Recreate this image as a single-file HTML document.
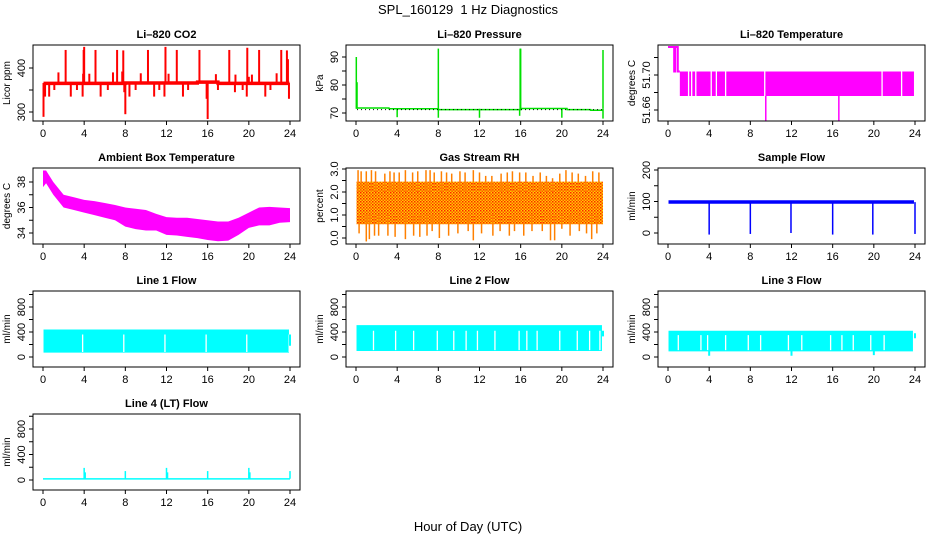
<!DOCTYPE html>
<html><head><meta charset="utf-8">
<style>
html,body{margin:0;padding:0;background:#fff;}
svg{display:block;font-family:"Liberation Sans",sans-serif;}
</style></head>
<body>
<svg id="chart" width="936" height="540" viewBox="0 0 936 540" xmlns="http://www.w3.org/2000/svg">
<defs>
<pattern id="rhpat" width="3" height="3" patternUnits="userSpaceOnUse">
<rect width="3" height="3" fill="#ffd000"/>
<rect x="0" y="0" width="1.5" height="1.5" fill="#ff2000"/>
<rect x="1.5" y="1.5" width="1.5" height="1.5" fill="#ff5000"/>
</pattern>
</defs>
<text x="468" y="14" font-size="13" text-anchor="middle">SPL_160129&#160; 1 Hz Diagnostics</text>
<text x="468" y="531" font-size="13" text-anchor="middle">Hour of Day (UTC)</text>
</svg>
<script>
// ---- data ----
const xTicks=[0,4,8,12,16,20,24];
// CO2
const co2BaseTimes=[0.05,8,8.01,15,15.01,17,17.01,23.95];
const co2BaseVals=[365,365,366,366,368,368,365,365];
const co2SpikeTimes=[2.2,3.95,4.0,5.1,7.2,7.8,10.2,11.9,13.0,15.2,18.1,19.85,21.0,23.15,23.7,1.5,3.9,4.5,6.8,7.7,9.5,12.2,16.8,18.7,20.0,20.3,22.7,23.8,0.05,0.2,0.6,1.1,2.7,3.3,3.85,5.6,6.3,7.9,8.0,8.4,9.0,10.8,11.3,11.8,13.6,14.1,15.9,16.0,17.0,18.65,19.4,19.8,21.6,22.1,23.9];
const co2SpikeVals=[441,441,448,441,441,440,441,448,441,441,441,446,441,441,440,390,387,387,390,392,388,387,386,385,380,385,388,420,289,335,335,350,335,350,335,335,350,345,295,335,350,335,350,335,335,350,330,284,350,345,350,335,335,350,330];
// Pressure
const presBaseTimes=[0.1,3.2,3.21,8,8.01,16,16.01,20.5,20.51,22.8,22.81,24];
const presBaseVals=[71.8,71.8,71.5,71.5,71.2,71.2,71.6,71.6,71.2,71.2,71.0,71.0];
const presSpikeTimes=[0.03,0.1,8.0,16.0,15.95,24.0,4.0,8.0,12.0,15.9,20.0,24.0];
const presSpikeVals=[90,81,93,93,93,92.5,68.5,68.3,68.3,69,68.3,68];
const presDotTimes=[0.1,24];
const presDotVals=[71.2,71.2];
// Li-820 temperature
const tempHighTimes=[0,0.6,0.6,0.7,0.7,0.95,0.95,1.15];
const tempHighVals=[51.732,51.732,51.704,51.704,51.732,51.732,51.704,51.704];
const tempBandTimes=[1.15,23.9];
const tempBandLo=[51.676,51.676];
const tempBandHi=[51.704,51.704];
const tempGapTimes=[2.0,2.3,2.7,4.2,4.7,5.6,9.4,20.8,22.7];
const tempSpikeTimes=[9.5,16.6];
const tempSpikeVals=[51.648,51.648];
// Ambient box temperature
const ambTimes=[0,0.3,1,2,3,4,5,6,7,8,9,10,11,12,13,14,15,16,17,18,19,20,21,22,23,24];
const ambLo=[37.6,37.9,37.0,36.0,35.8,35.6,35.4,35.2,35.0,34.5,34.3,34.2,34.2,33.85,33.8,33.7,33.6,33.45,33.35,33.4,33.85,34.4,34.6,34.6,34.8,34.85];
const ambHi=[38.9,38.9,38.0,37.0,36.8,36.6,36.5,36.35,36.2,36.0,35.9,35.8,35.5,35.25,35.2,35.2,35.1,35.0,34.9,34.9,35.2,35.6,36.0,36.05,36.0,35.95];
// Gas stream RH
const rhTimes=[0.05,24];
const rhLo=[0.6,0.6];
const rhHi=[2.45,2.45];
const rhUpTimes=[0.2,0.5,1.0,1.5,1.9,2.8,3.3,3.7,4.2,4.8,5.5,6.0,6.8,7.2,7.6,8.3,8.8,9.3,10.1,10.6,11.4,12.0,12.6,13.2,14.1,14.7,15.2,15.9,16.5,17.2,17.9,18.5,19.1,19.8,20.4,21.0,21.6,22.3,23.0,23.6];
const rhUpVals=[2.95,2.9,2.9,2.95,2.9,2.8,2.9,2.85,2.85,2.95,2.85,2.9,2.95,2.95,2.85,2.9,2.85,2.8,2.9,2.85,2.95,2.85,2.7,2.7,2.8,2.85,2.9,2.85,2.85,2.7,2.85,2.7,2.6,2.8,2.95,2.85,2.8,2.7,2.9,2.85];
const rhDnTimes=[0.3,1.0,1.3,1.8,2.2,3.1,3.8,4.8,5.6,6.2,6.9,7.4,8.1,9.0,9.9,10.9,11.4,12.2,13.3,14.0,14.9,15.4,16.3,17.1,18.1,18.9,19.3,20.0,20.8,21.7,22.4,22.9,23.4];
const rhDnVals=[0.2,-0.15,-0.05,0.1,0.1,0.1,0.05,-0.05,0.1,0.05,0.1,0.3,0.0,0.1,0.2,0.3,-0.1,0.2,0.1,0.3,0.1,0.3,0.1,0.3,0.3,-0.1,-0.1,0.4,0.1,0.3,0.2,-0.05,0.2];
// Sample flow
const sfTimes=[0.05,23.9];
const sfLo=[93,93];
const sfHi=[104,104];
const sfSpikeTimes=[4.0,8.0,11.95,16.0,19.9,24.0];
const sfSpikeVals=[-5,-3,0,-5,-5,-3];
// Line flows
const l1Times=[0.05,23.9];
const l1Lo=[70,70];
const l1Hi=[440,440];
const l1GapTimes=[3.85,7.85,11.85,15.85,19.8,23.92];
const l2Times=[0.05,23.9];
const l2Lo=[96,96];
const l2Hi=[510,510];
const l2GapTimes=[1.7,3.85,5.6,7.9,9.5,10.7,11.8,13.5,15.85,16.6,17.6,19.8,21.5,22.7,23.7];
const l3Times=[0.05,23.8];
const l3Lo=[90,90];
const l3Hi=[420,420];
const l3GapTimes=[1.0,3.2,3.85,5.6,7.8,9.0,11.7,13.0,15.8,16.9,18.0,19.7,21.0];
const l3DipTimes=[4.0,12.0,20.0];
const l3DipVals=[20,20,30];
const l4Times=[0.0,24.0];
const l4Lo=[5,5];
const l4Hi=[30,30];
const l4SpikeTimes=[4.0,4.1,8.0,12.0,12.1,16.0,20.0,20.1,24.0];
const l4SpikeVals=[190,120,140,190,120,140,190,120,140];

// ---- layout ----
const NS="http://www.w3.org/2000/svg";
const svg=document.getElementById('chart');
const COLX=[33,346,658], ROWY=[45,168,291,414], W=267, H=76;
function mk(tag,attrs,parent){const e=document.createElementNS(NS,tag);for(const k in attrs)e.setAttribute(k,attrs[k]);(parent||svg).appendChild(e);return e;}

function panel(c,r,name,title,ylab,v1,p1,v2,p2,ticks,labels){
  const x0=COLX[c], y0=ROWY[r];
  const g=mk('g',{});
  
  
  const xs=t=>x0+10+t*(247/24);
  const ys=v=>y0+p1+(v-v1)*(p2-p1)/(v2-v1);
  const clip=mk('clipPath',{id:'clip-'+name},g);
  mk('rect',{x:x0,y:y0,width:W,height:H},clip);
  const plot=mk('g',{'clip-path':'url(#clip-'+name+')'},g);
  
  
  const t=mk('text',{x:x0+W/2,y:y0-7,'font-size':11,'font-weight':'bold','text-anchor':'middle'},g);
  t.textContent=title;
  
  
  const box=mk('rect',{x:x0,y:y0,width:W,height:H,fill:'none',stroke:'#000','stroke-width':1},g);
  
  
  const xa=mk('g',{},g);
  
  
  mk('line',{x1:xs(0),x2:xs(24),y1:y0+H,y2:y0+H,stroke:'#000'},xa);
  xTicks.forEach(v=>{
    mk('line',{x1:xs(v),x2:xs(v),y1:y0+H,y2:y0+H+4,stroke:'#000'},xa);
    const tl=mk('text',{x:xs(v),y:y0+H+16,'font-size':11,'text-anchor':'middle'},xa);
    tl.textContent=v;
    
    
  });
  const ya=mk('g',{},g);
  
  
  mk('line',{x1:x0,x2:x0,y1:ys(ticks[0]),y2:ys(ticks[ticks.length-1]),stroke:'#000'},ya);
  ticks.forEach(v=>{mk('line',{x1:x0-4,x2:x0,y1:ys(v),y2:ys(v),stroke:'#000'},ya);});
  labels.forEach(v=>{
    const yy=ys(parseFloat(v));
    const tl=mk('text',{x:yy,y:x0-8,'font-size':11,'text-anchor':'middle',transform:'rotate(-90 '+(x0-8)+' '+yy+')'},ya);
    tl.setAttribute('x',x0-8);
    tl.setAttribute('y',yy);
    tl.textContent=v;
    
    
  });
  const yl=mk('text',{x:x0-23,y:y0+H/2,'font-size':10,'text-anchor':'middle',transform:'rotate(-90 '+(x0-23)+' '+(y0+H/2)+')'},g);
  yl.textContent=ylab;
  
  
  return {xs,ys,plot};
}
function band(P,times,lo,hi,fill,nm){
  let pts=[];
  for(let i=0;i<times.length;i++)pts.push(P.xs(times[i])+','+P.ys(hi[i]));
  for(let i=times.length-1;i>=0;i--)pts.push(P.xs(times[i])+','+P.ys(lo[i]));
  const e=mk('polygon',{points:pts.join(' '),fill:fill},P.plot);
  
  
  return e;
}
function line(P,times,vals,color,w,nm){
  const pts=times.map((t,i)=>P.xs(t)+','+P.ys(vals[i])).join(' ');
  const e=mk('polyline',{points:pts,fill:'none',stroke:color,'stroke-width':w},P.plot);
  
  
  return e;
}
function spikes(P,times,vals,base,color,w,nm){
  times.forEach((t,i)=>{
    const e=mk('line',{x1:P.xs(t),x2:P.xs(t),y1:P.ys(base),y2:P.ys(vals[i]),stroke:color,'stroke-width':w},P.plot);
    
    
  });
}
function gaps(P,times,lo,hi,nm){
  times.forEach(t=>{
    const e=mk('line',{x1:P.xs(t),x2:P.xs(t),y1:P.ys(hi),y2:P.ys(lo),stroke:'#fff','stroke-width':1.3},P.plot);
    
    
  });
}

// CO2
let P=panel(0,0,'co2','Li\u2013820 CO2','Licor ppm',400,23,300,67,[300,350,400],['300','400']);
spikes(P,co2SpikeTimes,co2SpikeVals,366,'#ff0000',2,'co2-spike');
line(P,co2BaseTimes,co2BaseVals,'#ff0000',3.5,'co2-series');
// Pressure
P=panel(1,0,'pressure','Li\u2013820 Pressure','kPa',90,12,70,68,[70,75,80,85,90],['70','80','90']);
spikes(P,presSpikeTimes,presSpikeVals,71.5,'#00e000',1.5,'pressure-spike');
line(P,presBaseTimes,presBaseVals,'#00e000',1.5,'pressure-series');
const dl=line(P,presDotTimes,presDotVals,'#000',1,'pressure-dotted-line');
dl.setAttribute('stroke-dasharray','1,3');
// Li-820 temperature
P=panel(2,0,'li820-temp','Li\u2013820 Temperature','degrees C',51.70,30,51.66,65,[51.66,51.68,51.70,51.72],['51.66','51.70']);
line(P,tempHighTimes,tempHighVals,'#ff00ff',2,'temp-series-start');
band(P,tempBandTimes,tempBandLo,tempBandHi,'#ff00ff','temp-band');
gaps(P,tempGapTimes,51.676,51.704,'temp-gap');
spikes(P,tempSpikeTimes,tempSpikeVals,51.676,'#ff00ff',1.5,'temp-spike');
// Ambient
P=panel(0,1,'ambient','Ambient Box Temperature','degrees C',38,14,34,65,[34,35,36,37,38],['34','36','38']);
band(P,ambTimes,ambLo,ambHi,'#ff00ff','ambient-band');
// RH
P=panel(1,1,'rh','Gas Stream RH','percent',3,1,0,70,[0,0.5,1,1.5,2,2.5,3],['0.0','1.0','2.0','3.0']);
band(P,rhTimes,rhLo,rhHi,'url(#rhpat)','rh-band');
spikes(P,rhUpTimes,rhUpVals,2.0,'#ff8000',1.5,'rh-spike-up');
spikes(P,rhDnTimes,rhDnVals,1.0,'#ff8000',1.5,'rh-spike-down');
// Sample flow
P=panel(2,1,'sample-flow','Sample Flow','ml/min',200,2,0,65,[0,50,100,150,200],['0','100','200']);
band(P,sfTimes,sfLo,sfHi,'#0000ff','sample-flow-band');
spikes(P,sfSpikeTimes,sfSpikeVals,98,'#0000ff',1.5,'sample-flow-spike');
// Line 1
P=panel(0,2,'line1','Line 1 Flow','ml/min',800,16,0,66,[0,200,400,600,800,1000],['0','400','800']);
band(P,l1Times,l1Lo,l1Hi,'#00ffff','line1-band');
gaps(P,l1GapTimes,80,360,'line1-gap');
spikes(P,[24.0],[360],180,'#00ffff',2,'line1-end');
// Line 2
P=panel(1,2,'line2','Line 2 Flow','ml/min',800,16,0,66,[0,200,400,600,800,1000],['0','400','800']);
band(P,l2Times,l2Lo,l2Hi,'#00ffff','line2-band');
gaps(P,l2GapTimes,110,420,'line2-gap');
spikes(P,[24.0],[420],330,'#00ffff',2,'line2-end');
// Line 3
P=panel(2,2,'line3','Line 3 Flow','ml/min',800,16,0,66,[0,200,400,600,800,1000],['0','400','800']);
band(P,l3Times,l3Lo,l3Hi,'#00ffff','line3-band');
gaps(P,l3GapTimes,110,350,'line3-gap');
spikes(P,l3DipTimes,l3DipVals,100,'#00ffff',2,'line3-dip');
spikes(P,[24.0],[380],300,'#00ffff',2,'line3-end');
// Line 4
P=panel(0,3,'line4','Line 4 (LT) Flow','ml/min',800,15,0,66,[0,200,400,600,800,1000],['0','400','800']);
band(P,l4Times,l4Lo,l4Hi,'#00ffff','line4-band');
spikes(P,l4SpikeTimes,l4SpikeVals,20,'#00ffff',1.5,'line4-spike');
</script>
</body></html>
